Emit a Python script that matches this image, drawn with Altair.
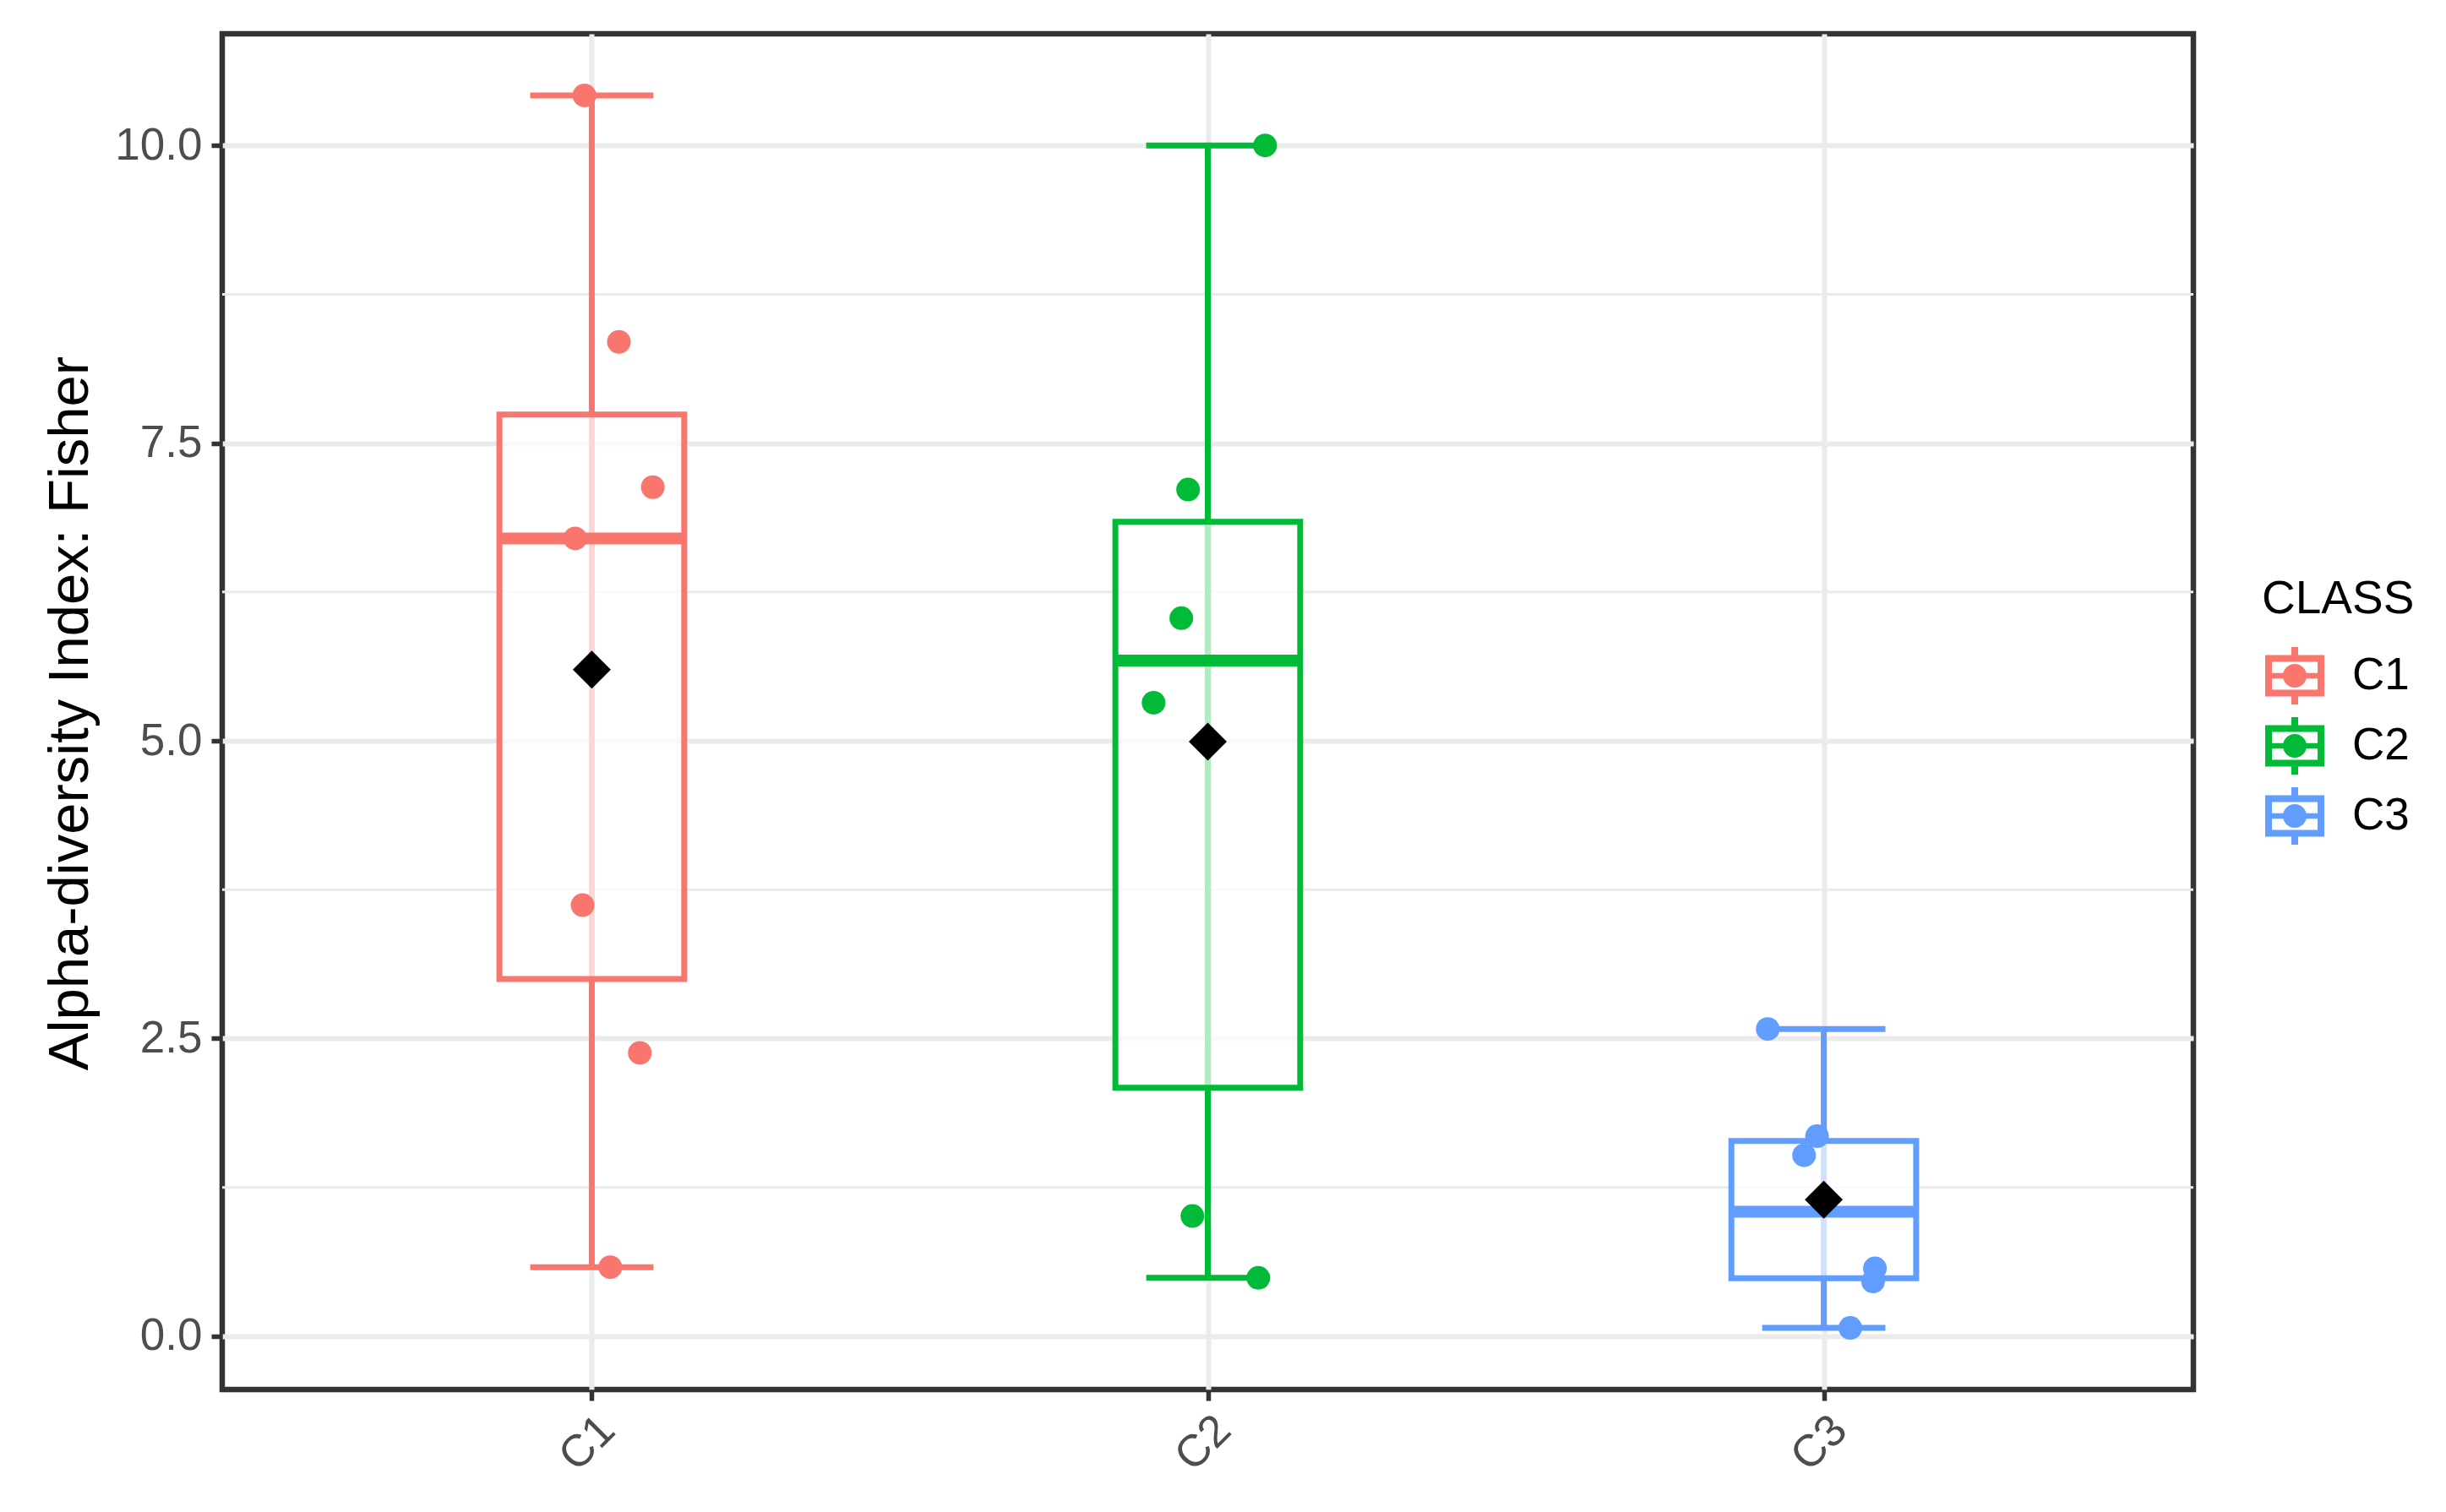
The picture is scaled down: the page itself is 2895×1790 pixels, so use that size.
import altair as alt
import pandas as pd

# ---------------- data ----------------
categories = ["C1", "C2", "C3"]
colors = ["#F8766D", "#00BA38", "#619CFF"]

c1_values = [10.42, 8.35, 7.13, 6.70, 3.62, 2.38, 0.58]
c2_values = [10.00, 7.11, 6.03, 5.32, 1.01, 0.49]
c3_values = [2.58, 1.68, 1.52, 0.57, 0.46, 0.07]

# horizontal jitter of each point (in category units)
c1_jitter = [-0.012, 0.044, 0.099, -0.027, -0.015, 0.078, 0.030]
c2_jitter = [0.093, -0.032, -0.043, -0.088, -0.025, 0.082]
c3_jitter = [-0.091, -0.011, -0.032, 0.083, 0.080, 0.043]

y_ticks = [0, 2.5, 5, 7.5, 10]
y_minor = [1.25, 3.75, 6.25, 8.75]
y_title = "Alpha-diversity Index: Fisher"
legend_title = "CLASS"

rows = []
for cat, vals, jit in zip(categories, [c1_values, c2_values, c3_values],
                          [c1_jitter, c2_jitter, c3_jitter]):
    for v, j in zip(vals, jit):
        rows.append({"CLASS": cat, "value": v, "jitter": j})
df = pd.DataFrame(rows)

# ---------------- layout ----------------
PW, PH = 2333, 1605
FONT = "Liberation Sans"

all_vals = c1_values + c2_values + c3_values
vmin, vmax = min(all_vals), max(all_vals)
exp = 0.05 * (vmax - vmin)
yscale = alt.Scale(domain=[vmin - exp, vmax + exp], nice=False, zero=False)
xscale = alt.Scale(domain=[0.4, len(categories) + 0.6], nice=False, zero=False)
cscale = alt.Scale(domain=categories, range=colors)

cat_js = "[" + ",".join("'%s'" % c for c in categories) + "]"
idx_expr = "indexof(%s, datum.CLASS) + 1" % cat_js

xaxis = alt.Axis(
    values=list(range(1, len(categories) + 1)),
    labelExpr="%s[datum.value - 1]" % cat_js,
    title="",
    domain=False,
    grid=True, gridColor="#EBEBEB", gridWidth=6,
    ticks=True, tickSize=13, tickWidth=5.5, tickColor="#333333",
    labelAngle=315, labelAlign="right", labelBaseline="top", labelPadding=8,
    labelFont=FONT, labelFontSize=53, labelColor="#4D4D4D",
)
yaxis = alt.Axis(
    values=y_ticks,
    format=".1f",
    title=y_title,
    domain=False,
    grid=True, gridColor="#EBEBEB", gridWidth=6,
    ticks=True, tickSize=13, tickWidth=5.5, tickColor="#333333",
    labelPadding=11, labelFont=FONT, labelFontSize=53, labelColor="#4D4D4D",
    titleFont=FONT, titleFontSize=67, titleFontWeight="normal", titleColor="black",
    titleAngle=270, titleBaseline="alphabetic", titleAlign="center",
    titleX=-160, titleY=804, titleLimit=2000,
)


def X(field):
    return alt.X(field, type="quantitative", scale=xscale, axis=xaxis)


def Y(field):
    return alt.Y(field, type="quantitative", scale=yscale, axis=yaxis)


# boxplot glyph for the legend: outline box (hole), median bar, dot, whisker stubs
symbol_path = (
    "M-1,-0.7 H1 V0.7 H-1 Z "
    "M-0.771,-0.471 V0.471 H0.771 V-0.471 Z "
    "M-0.771,-0.095 H0.771 V0.095 H-0.771 Z "
    "M0.4,0 C0.4,0.2209 0.2209,0.4 0,0.4 C-0.2209,0.4 -0.4,0.2209 -0.4,0 "
    "C-0.4,-0.2209 -0.2209,-0.4 0,-0.4 C0.2209,-0.4 0.4,-0.2209 0.4,0 Z "
    "M-0.114,-0.97 H0.114 V-0.7 H-0.114 Z "
    "M-0.114,0.7 H0.114 V0.97 H-0.114 Z"
)

legend = alt.Legend(
    title=legend_title,
    orient="none", legendX=2414, legendY=643,
    titleFont=FONT, titleFontSize=55, titleFontWeight="normal", titleColor="black",
    titleBaseline="top", titlePadding=27, titleLimit=600,
    labelFont=FONT, labelFontSize=53, labelColor="black", labelOffset=33,
    labelLimit=400,
    symbolType=symbol_path, symbolSize=4900, symbolStrokeWidth=0,
    symbolOffset=4, rowPadding=14,
)

stroke_enc = alt.Stroke("CLASS:N", scale=cscale, legend=legend)

base = alt.Chart(df).transform_calculate(idx=idx_expr)

stats = alt.Chart(df).transform_aggregate(
    vmin="min(value)", vmax="max(value)", q1="q1(value)", q3="q3(value)",
    med="median(value)", mean="mean(value)", groupby=["CLASS"],
).transform_calculate(
    idx=idx_expr,
).transform_calculate(
    bl="datum.idx - 0.15", br="datum.idx + 0.15",
    cl="datum.idx - 0.1", cr="datum.idx + 0.1",
)

minor = alt.Chart(pd.DataFrame({"m": y_minor})).mark_rule(
    color="#EBEBEB", strokeWidth=3
).encode(y=Y("m"))

whisker = stats.mark_rule(strokeWidth=7).encode(
    x=X("idx"), y=Y("vmin"), y2="vmax", stroke=stroke_enc
)
cap_lo = stats.mark_rule(strokeWidth=7).encode(
    x=X("cl"), x2="cr", y=Y("vmin"), stroke=stroke_enc
)
cap_hi = stats.mark_rule(strokeWidth=7).encode(
    x=X("cl"), x2="cr", y=Y("vmax"), stroke=stroke_enc
)
box = stats.mark_rect(fill="white", fillOpacity=0.7, strokeWidth=7).encode(
    x=X("bl"), x2="br", y=Y("q1"), y2="q3", stroke=stroke_enc
)
median = stats.mark_rule(strokeWidth=14).encode(
    x=X("bl"), x2="br", y=Y("med"), stroke=stroke_enc
)
points = base.transform_calculate(xj="datum.idx + datum.jitter").mark_circle(
    size=784, opacity=1
).encode(
    x=X("xj"), y=Y("value"),
    color=alt.Color("CLASS:N", scale=cscale, legend=legend),
)
mean = stats.mark_point(shape="diamond", filled=True, size=2025,
                        color="black", opacity=1).encode(
    x=X("idx"), y=Y("mean")
)

chart = alt.layer(
    minor, whisker, cap_lo, cap_hi, box, median, points, mean
).properties(
    width=PW, height=PH,
    autosize=alt.AutoSizeParams(type="none"),
    padding={"left": 255, "top": 32, "right": 290, "bottom": 130},
    background="white",
).configure_view(
    stroke="#333333", strokeWidth=6.5
)

chart.save("out.html", embed_options={"renderer": "svg", "actions": False})
